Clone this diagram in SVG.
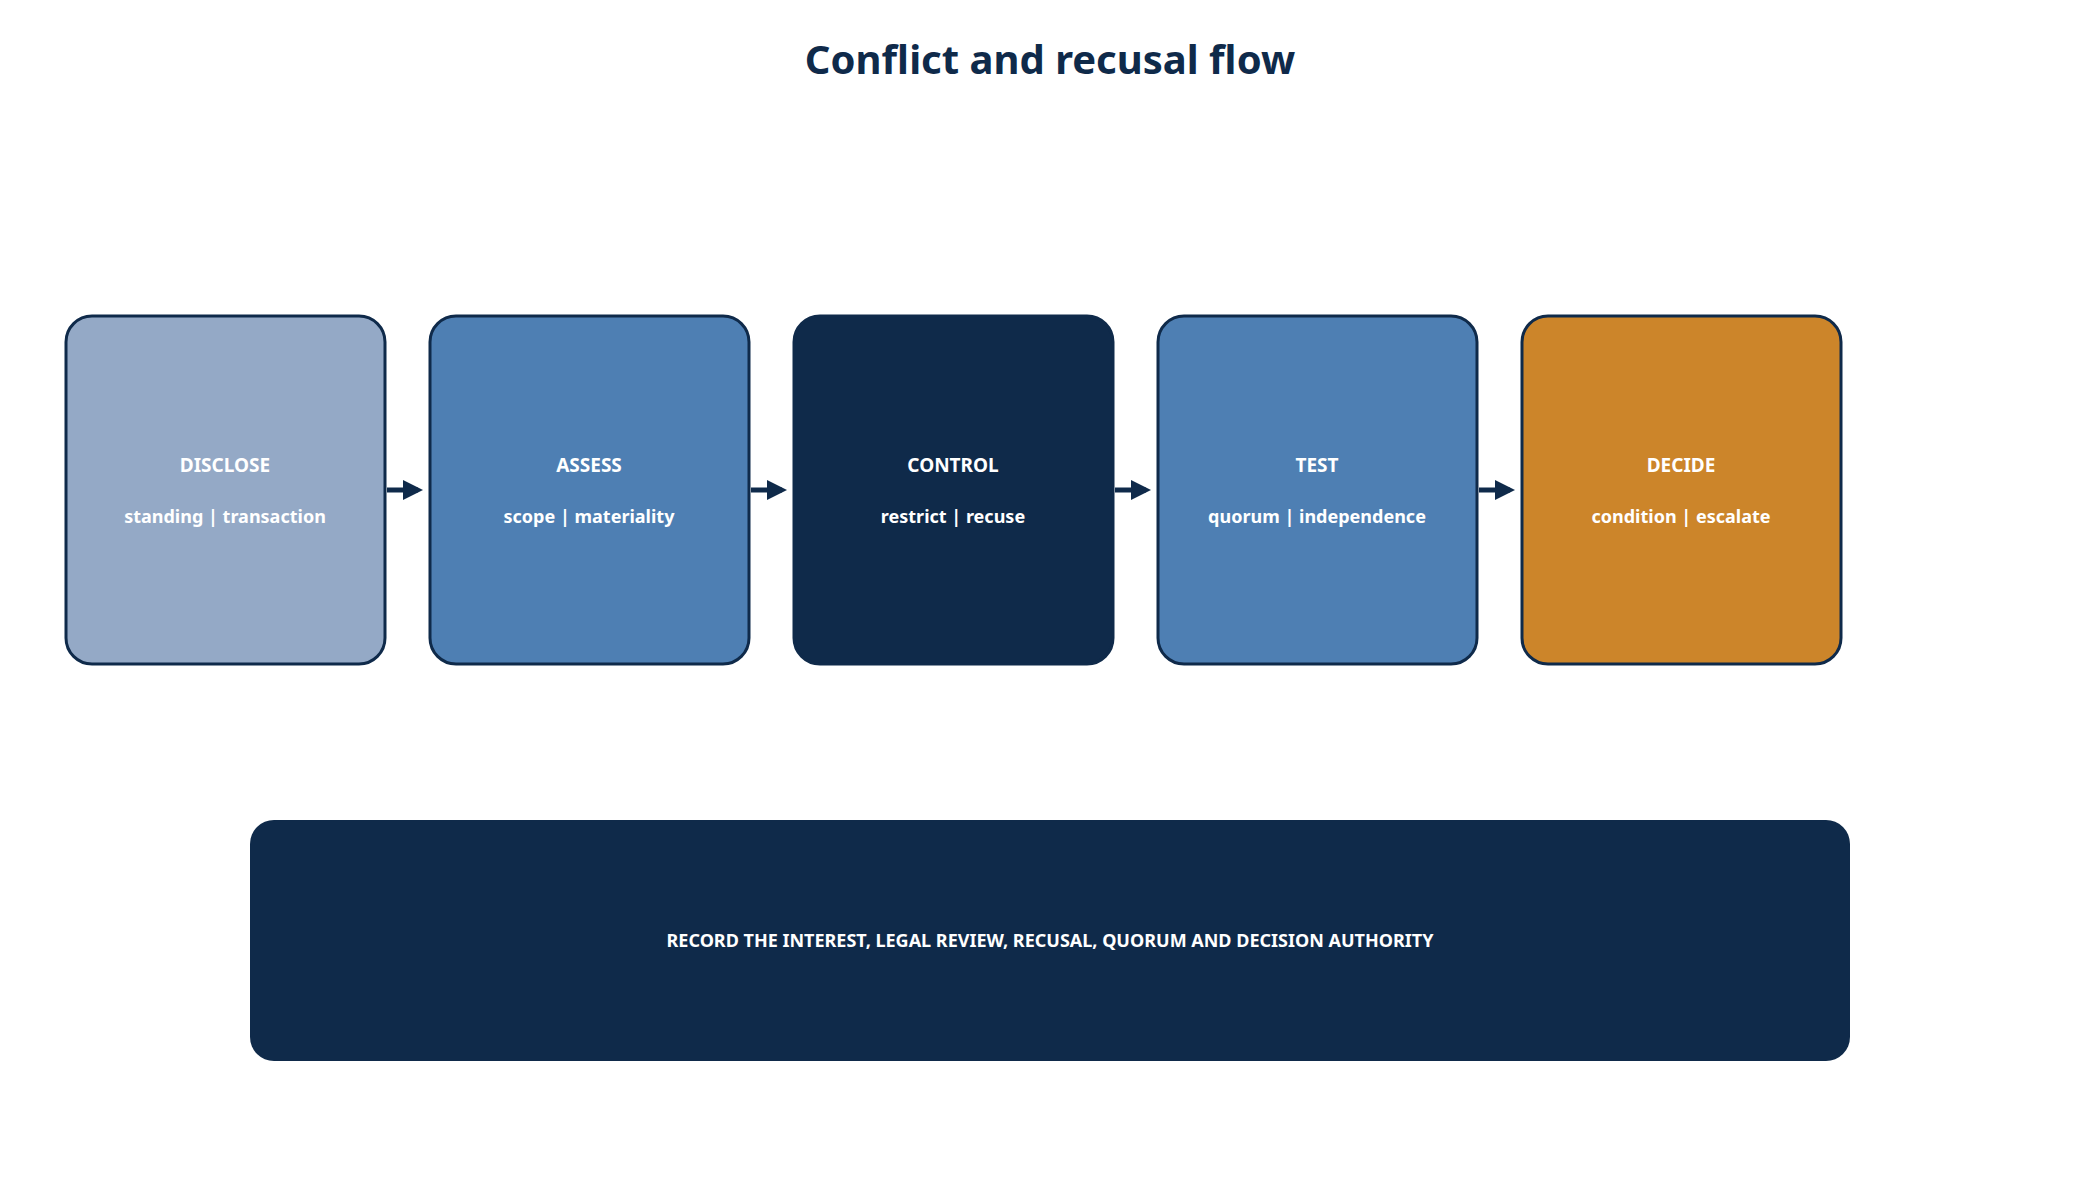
<svg xmlns="http://www.w3.org/2000/svg" width="2100" height="1180" viewBox="0 0 2100 1180">
<style>
.box{stroke:#0F2A4A;stroke-width:3}
.t{font-family:"Noto Sans","Open Sans",sans-serif;font-weight:bold;fill:#fff;text-anchor:middle}
.h{font-size:19px}
.s{font-size:18px}
.c{stroke:#0F2A4A;stroke-width:5;fill:none;marker-end:url(#ah)}
</style>
<defs><marker id="ah" markerWidth="4" markerHeight="4" refX="3" refY="2" orient="auto"><path d="M0,0L4,2L0,4z" fill="#0F2A4A"/></marker></defs>
<rect width="2100" height="1180" fill="#fff"/>
<text x="1050" y="74" font-family="'Noto Sans','Open Sans',sans-serif" font-weight="bold" font-size="40" fill="#0F2A4A" text-anchor="middle">Conflict and recusal flow</text>
<g id="connectors">
<line class="c" x1="387" y1="490" x2="418" y2="490"/>
<line class="c" x1="751" y1="490" x2="782" y2="490"/>
<line class="c" x1="1115" y1="490" x2="1146" y2="490"/>
<line class="c" x1="1479" y1="490" x2="1510" y2="490"/>
</g>
<g id="disclose"><rect class="box" x="66" y="316" width="319" height="348" rx="26" fill="#94A9C6"/><text class="t h" x="225" y="472">DISCLOSE</text><text class="t s" x="225" y="523">standing | transaction</text></g>
<g id="assess"><rect class="box" x="430" y="316" width="319" height="348" rx="26" fill="#4E7FB3"/><text class="t h" x="589" y="472">ASSESS</text><text class="t s" x="589" y="523">scope | materiality</text></g>
<g id="control"><rect class="box" x="794" y="316" width="319" height="348" rx="26" fill="#0F2A4A"/><text class="t h" x="953" y="472">CONTROL</text><text class="t s" x="953" y="523">restrict | recuse</text></g>
<g id="test"><rect class="box" x="1158" y="316" width="319" height="348" rx="26" fill="#4E7FB3"/><text class="t h" x="1317" y="472">TEST</text><text class="t s" x="1317" y="523">quorum | independence</text></g>
<g id="decide"><rect class="box" x="1522" y="316" width="319" height="348" rx="26" fill="#CC852A"/><text class="t h" x="1681" y="472">DECIDE</text><text class="t s" x="1681" y="523">condition | escalate</text></g>
<g id="record"><rect x="250" y="820" width="1600" height="241" rx="24" fill="#0F2A4A"/><text class="t s" x="1050" y="947">RECORD THE INTEREST, LEGAL REVIEW, RECUSAL, QUORUM AND DECISION AUTHORITY</text></g>
</svg>
